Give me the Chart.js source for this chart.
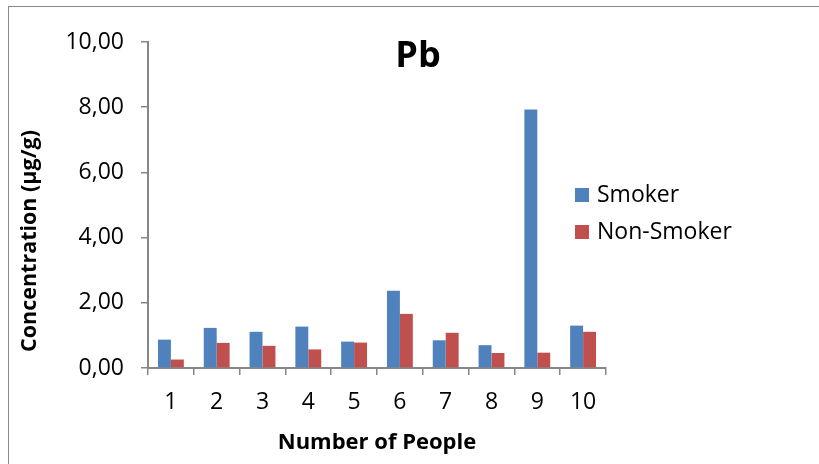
<!DOCTYPE html>
<html>
<head>
<meta charset="utf-8">
<script src="https://cdn.jsdelivr.net/npm/chart.js"></script>
<style>
  html, body { margin: 0; padding: 0; background: #fff; }
  #wrap { width: 819px; height: 464px; position: relative; }
</style>
</head>
<body>
<div id="wrap"><canvas id="pbChart" width="819" height="464"></canvas></div>
<script>
// --------- Data ---------
const people = ["1", "2", "3", "4", "5", "6", "7", "8", "9", "10"];
const smoker = [0.87, 1.23, 1.11, 1.27, 0.81, 2.37, 0.85, 0.70, 7.93, 1.30];
const nonSmoker = [0.26, 0.77, 0.68, 0.57, 0.78, 1.66, 1.08, 0.46, 0.47, 1.11];
const yTicks = [0, 2, 4, 6, 8, 10];

const axisGrey = "#868686";
const font = "'Open Sans', 'Liberation Sans', sans-serif";

// --------- Frame, title, y title and legend ---------
const extras = {
  id: "extras",
  beforeDraw(chart) {
    const c = chart.ctx;
    c.save();
    c.strokeStyle = "#8a8a8a";
    c.lineWidth = 1;
    c.strokeRect(8.5, 6.5, 900, 600);
    c.restore();
  },
  afterDraw(chart) {
    const c = chart.ctx;
    c.save();
    c.fillStyle = "#000";
    c.textBaseline = "middle";

    // chart title
    c.font = "bold 36px " + font;
    c.textAlign = "center";
    c.fillText("Pb", 418, 57);

    // y axis title
    c.save();
    c.translate(30, 241);
    c.rotate(-Math.PI / 2);
    c.font = "bold 21.5px " + font;
    c.fillText("Concentration (µg/g)", 0, 0);
    c.restore();

    // legend
    c.textAlign = "left";
    c.font = "23px " + font;
    chart.data.datasets.forEach((ds, i) => {
      const y = 195 + i * 37;
      c.fillStyle = ds.backgroundColor;
      c.fillRect(575, y - 7, 14, 14);
      c.fillStyle = "#000";
      c.fillText(ds.label, 597, y);
    });
    c.restore();
  }
};

new Chart(document.getElementById("pbChart"), {
  type: "bar",
  data: {
    labels: people,
    datasets: [
      { label: "Smoker", data: smoker, backgroundColor: "#4F81BD" },
      { label: "Non-Smoker", data: nonSmoker, backgroundColor: "#C0504D" }
    ]
  },
  options: {
    responsive: false,
    animation: false,
    layout: { padding: { left: 0, right: 213, top: 42, bottom: 0 } },
    datasets: { bar: { categoryPercentage: 0.565, barPercentage: 1 } },
    plugins: {
      legend: { display: false },
      tooltip: { enabled: false }
    },
    scales: {
      x: {
        grid: { offset: true, drawOnChartArea: false, tickLength: 7, color: axisGrey, lineWidth: 1.5 },
        border: { color: axisGrey, width: 2 },
        ticks: { color: "#000", font: { family: font, size: 23 }, padding: 14, maxRotation: 0 },
        title: {
          display: true,
          text: "Number of People",
          color: "#000",
          font: { family: font, size: 22, weight: "bold" },
          padding: { top: 0, bottom: 8 }
        },
        afterFit(scale) { scale.height = 96; }
      },
      y: {
        min: 0,
        max: 10,
        afterBuildTicks(scale) { scale.ticks = yTicks.map(v => ({ value: v })); },
        grid: { drawOnChartArea: false, tickLength: 7, color: axisGrey, lineWidth: 1.5 },
        border: { color: axisGrey, width: 2 },
        ticks: {
          color: "#000",
          font: { family: font, size: 23 },
          padding: 17,
          callback: v => v.toFixed(2).replace(".", ",")
        },
        afterFit(scale) { scale.width = 148; }
      }
    }
  },
  plugins: [extras]
});
</script>
</body>
</html>
